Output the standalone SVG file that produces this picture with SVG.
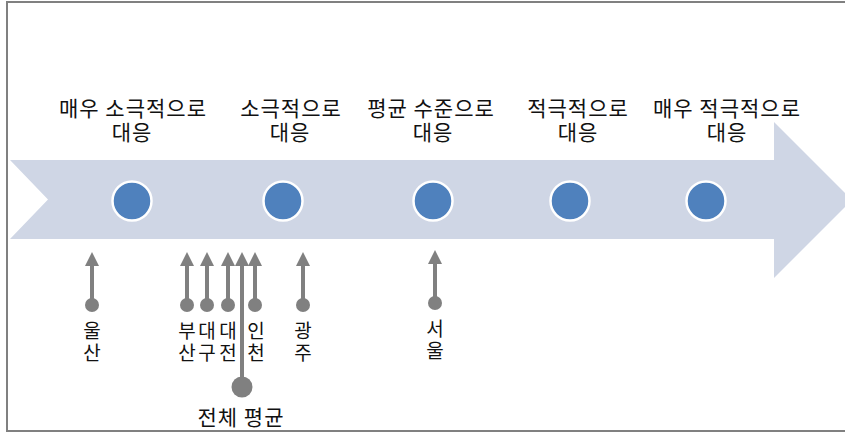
<svg xmlns="http://www.w3.org/2000/svg" width="845" height="433" viewBox="0 0 845 433">
<style>
.lbl{font-family:"Noto Sans CJK KR","Noto Sans",sans-serif;font-size:21px;letter-spacing:1px;fill:#111;text-anchor:middle}
.sm{font-family:"Noto Sans CJK KR","Noto Sans",sans-serif;font-size:19px;fill:#111;text-anchor:middle}
.dot{fill:#4F81BD;stroke:#fff;stroke-width:2.5}
.shaft{stroke:#808080;stroke-width:4;fill:none}
.end{fill:#808080}
</style>
<defs>
<marker id="ah" markerUnits="userSpaceOnUse" markerWidth="14" markerHeight="14" viewBox="0 0 14 14" refX="0" refY="7" orient="auto">
<path d="M0,0 L14,7 L0,14 z" fill="#808080"/>
</marker>
</defs>
<rect x="0" y="0" width="845" height="433" fill="#fff"/>
<rect x="7" y="2" width="850" height="429" fill="none" stroke="#808080" stroke-width="2"/>
<g id="band">
<polygon points="10,160 774,160 774,122 852,200 774,278 774,239 10,239 48,199.5" fill="#CFD6E5"/>
</g>
<g id="level1">
<circle class="dot" cx="132" cy="201" r="19.5"/>
<text class="lbl" y="116"><tspan x="133">매우 소극적으로</tspan><tspan x="132" dy="24">대응</tspan></text>
</g>
<g id="level2">
<circle class="dot" cx="283" cy="201" r="19.5"/>
<text class="lbl" y="116"><tspan x="291">소극적으로</tspan><tspan x="290" dy="24">대응</tspan></text>
</g>
<g id="level3">
<circle class="dot" cx="433" cy="201" r="19.5"/>
<text class="lbl" y="116"><tspan x="431">평균 수준으로</tspan><tspan x="433" dy="24">대응</tspan></text>
</g>
<g id="level4">
<circle class="dot" cx="570" cy="201" r="19.5"/>
<text class="lbl" y="116"><tspan x="578">적극적으로</tspan><tspan x="578" dy="24">대응</tspan></text>
</g>
<g id="level5">
<circle class="dot" cx="706" cy="201" r="19.5"/>
<text class="lbl" y="116"><tspan x="727">매우 적극적으로</tspan><tspan x="727" dy="24">대응</tspan></text>
</g>
<g id="connectors">
<line class="shaft" x1="92" y1="305" x2="92" y2="266" marker-end="url(#ah)"/>
<line class="shaft" x1="187" y1="305" x2="187" y2="266" marker-end="url(#ah)"/>
<line class="shaft" x1="207" y1="305" x2="207" y2="266" marker-end="url(#ah)"/>
<line class="shaft" x1="228" y1="305" x2="228" y2="266" marker-end="url(#ah)"/>
<line class="shaft" x1="255" y1="305" x2="255" y2="266" marker-end="url(#ah)"/>
<line class="shaft" x1="242" y1="387" x2="242" y2="266" marker-end="url(#ah)"/>
<line class="shaft" x1="303" y1="305" x2="303" y2="266" marker-end="url(#ah)"/>
<line class="shaft" x1="435" y1="303" x2="435" y2="264" marker-end="url(#ah)"/>
</g>
<g id="ulsan">
<circle class="end" cx="92" cy="305" r="7"/>
<text class="sm" x="92" y="338">울<tspan x="92" dy="22">산</tspan></text>
</g>
<g id="busan">
<circle class="end" cx="187" cy="305" r="7"/>
<text class="sm" x="187" y="338">부<tspan x="187" dy="22">산</tspan></text>
</g>
<g id="daegu">
<circle class="end" cx="207" cy="305" r="7"/>
<text class="sm" x="207" y="338">대<tspan x="207" dy="22">구</tspan></text>
</g>
<g id="daejeon">
<circle class="end" cx="228" cy="305" r="7"/>
<text class="sm" x="228" y="338">대<tspan x="228" dy="22">전</tspan></text>
</g>
<g id="incheon">
<circle class="end" cx="255" cy="305" r="7"/>
<text class="sm" x="256" y="338">인<tspan x="256" dy="22">천</tspan></text>
</g>
<g id="gwangju">
<circle class="end" cx="303" cy="305" r="7"/>
<text class="sm" x="303" y="338">광<tspan x="303" dy="22">주</tspan></text>
</g>
<g id="seoul">
<circle class="end" cx="435" cy="303" r="7"/>
<text class="sm" x="435" y="336">서<tspan x="435" dy="22">울</tspan></text>
</g>
<g id="average">
<circle class="end" cx="242" cy="387" r="10.5"/>
<text class="lbl" x="241" y="425">전체 평균</text>
</g>
</svg>
